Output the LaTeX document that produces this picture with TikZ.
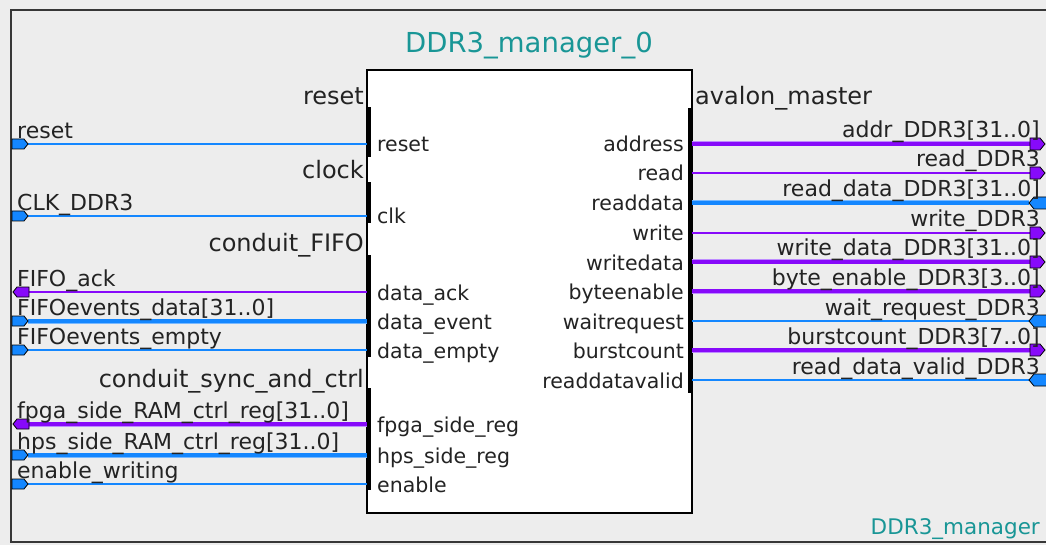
\documentclass[tikz,border=0pt]{standalone}
\usepackage{fontspec}
\setmainfont{DejaVu Sans}
\usepackage{xcolor}
\usepackage{tikz}
\usetikzlibrary{calc, positioning}

\definecolor{bgGray}{RGB}{237,237,237}
\definecolor{frameGray}{RGB}{55,55,55}
\definecolor{txtGray}{RGB}{35,35,35}
\definecolor{sigBlue}{RGB}{20,135,255}
\definecolor{sigBlueLt}{RGB}{120,185,255}
\definecolor{sigPurple}{RGB}{135,10,250}
\definecolor{sigPurpleLt}{RGB}{190,140,255}
\definecolor{instTeal}{RGB}{25,150,150}

\begin{document}
\begin{tikzpicture}[x=1pt, y=-1pt,
    wireB/.style={sigBlue, line width=1.6pt},
    busB/.style={sigBlue, line width=3.6pt, preaction={draw=sigBlueLt, line width=5pt}},
    wireP/.style={sigPurple, line width=1.6pt},
    busP/.style={sigPurple, line width=3.6pt, preaction={draw=sigPurpleLt, line width=5pt}},
    portB/.style={fill=sigBlue, draw=black, line width=0.8pt},
    portP/.style={fill=sigPurple, draw=black, line width=0.8pt},
    ifbar/.style={fill=black},
    iflabel/.style={inner sep=0pt, text=txtGray, font=\fontsize{24}{28}\selectfont},
    siglabel/.style={inner sep=0pt, text=txtGray, font=\fontsize{22}{26}\selectfont},
    pinlabel/.style={inner sep=0pt, text=txtGray, font=\fontsize{20.5}{24}\selectfont}]

    % =================================================================
    % 1. NEN VA KHUNG NGOAI
    % =================================================================
    \useasboundingbox (0,0) rectangle (1046,545);
    \fill[bgGray] (0,0) rectangle (1046,545);
    \draw[frameGray, line width=2pt] (1046,10) -- (11,10) -- (11,542) -- (1046,542);

    % =================================================================
    % 2. KHOI DDR3_manager_0
    % =================================================================
    \coordinate (BlkNW) at (367,70);
    \coordinate (BlkSE) at (692,513);
    \draw[fill=white, draw=black, line width=1.2pt] (BlkNW) rectangle (BlkSE);

    \node[text=instTeal, font=\fontsize{27.5}{32}\selectfont, inner sep=0pt] (title) at (529,46) {DDR3\_manager\_0};
    \node[text=instTeal, font=\fontsize{21.5}{25}\selectfont, inner sep=0pt, anchor=base east] (module) at (1040,534) {DDR3\_manager};

    % Thanh giao dien (interface) mau den
    \fill[ifbar] (367,107) rectangle (371,157);
    \fill[ifbar] (367,182) rectangle (371,223);
    \fill[ifbar] (367,255) rectangle (371,357);
    \fill[ifbar] (367,388) rectangle (371,490);
    \fill[ifbar] (688,108) rectangle (692,393);

    % Ten giao dien
    \node[iflabel, anchor=base east] (ifReset) at (364,105) {reset};
    \node[iflabel, anchor=base east] (ifClock) at (364,179) {clock};
    \node[iflabel, anchor=base east] (ifFifo) at (364,252) {conduit\_FIFO};
    \node[iflabel, anchor=base east] (ifSync) at (364,387) {conduit\_sync\_and\_ctrl};
    \node[iflabel, anchor=base west] (ifAvalon) at (695,105) {avalon\_master};

    % =================================================================
    % 3. DIEM NOI DAY BEN TRAI
    % =================================================================
    \coordinate (L1) at (28,144);   \coordinate (P1) at (367,144);
    \coordinate (L2) at (28,216);   \coordinate (P2) at (367,216);
    \coordinate (L3) at (29,292);   \coordinate (P3) at (367,292);
    \coordinate (L4) at (28,321);   \coordinate (P4) at (367,321);
    \coordinate (L5) at (28,350);   \coordinate (P5) at (367,350);
    \coordinate (L6) at (29,424);   \coordinate (P6) at (367,424);
    \coordinate (L7) at (28,455);   \coordinate (P7) at (367,455);
    \coordinate (L8) at (28,484);   \coordinate (P8) at (367,484);

    \draw[wireB] (L1) -- (P1);
    \draw[wireB] (L2) -- (P2);
    \draw[wireP] (L3) -- (P3);
    \draw[busB]  (L4) -- (P4);
    \draw[wireB] (L5) -- (P5);
    \draw[busP]  (L6) -- (P6);
    \draw[busB]  (L7) -- (P7);
    \draw[wireB] (L8) -- (P8);

    % Cong vao (xanh) va cong ra (tim) ben trai
    \draw[portB] (L1) -- ++(-4,-5) -- ++(-12,0) -- ++(0,10) -- ++(12,0) -- cycle;
    \draw[portB] (L2) -- ++(-4,-5) -- ++(-12,0) -- ++(0,10) -- ++(12,0) -- cycle;
    \draw[portP] (L3) -- ++(0,-5) -- ++(-12,0) -- ++(-4,5) -- ++(4,5) -- ++(12,0) -- cycle;
    \draw[portB] (L4) -- ++(-4,-5) -- ++(-12,0) -- ++(0,10) -- ++(12,0) -- cycle;
    \draw[portB] (L5) -- ++(-4,-5) -- ++(-12,0) -- ++(0,10) -- ++(12,0) -- cycle;
    \draw[portP] (L6) -- ++(0,-5) -- ++(-12,0) -- ++(-4,5) -- ++(4,5) -- ++(12,0) -- cycle;
    \draw[portB] (L7) -- ++(-4,-5) -- ++(-12,0) -- ++(0,10) -- ++(12,0) -- cycle;
    \draw[portB] (L8) -- ++(-4,-5) -- ++(-12,0) -- ++(0,10) -- ++(12,0) -- cycle;

    % Ten tin hieu ben trai
    \node[siglabel, anchor=base west] (sReset) at (17,139) {reset};
    \node[siglabel, anchor=base west] (sClk) at (17,211) {CLK\_DDR3};
    \node[siglabel, anchor=base west] (sAck) at (17,286) {FIFO\_ack};
    \node[siglabel, anchor=base west] (sData) at (17,315) {FIFOevents\_data[31..0]};
    \node[siglabel, anchor=base west] (sEmpty) at (17,344) {FIFOevents\_empty};
    \node[siglabel, anchor=base west] (sFpga) at (17,418) {fpga\_side\_RAM\_ctrl\_reg[31..0]};
    \node[siglabel, anchor=base west] (sHps) at (17,449) {hps\_side\_RAM\_ctrl\_reg[31..0]};
    \node[siglabel, anchor=base west] (sEnable) at (17,478) {enable\_writing};

    % Ten chan ben trong khoi (trai)
    \node[pinlabel, anchor=base west] (pReset) at (377,152) {reset};
    \node[pinlabel, anchor=base west] (pClk) at (377,224) {clk};
    \node[pinlabel, anchor=base west] (pAck) at (377,300) {data\_ack};
    \node[pinlabel, anchor=base west] (pEvent) at (377,329) {data\_event};
    \node[pinlabel, anchor=base west] (pEmpty) at (377,358) {data\_empty};
    \node[pinlabel, anchor=base west] (pFpga) at (377,432) {fpga\_side\_reg};
    \node[pinlabel, anchor=base west] (pHps) at (377,463) {hps\_side\_reg};
    \node[pinlabel, anchor=base west] (pEnable) at (377,492) {enable};

    % =================================================================
    % 4. DIEM NOI DAY BEN PHAI (AVALON MASTER)
    % =================================================================
    \coordinate (Q1) at (692,144);  \coordinate (R1) at (1030,144);
    \coordinate (Q2) at (692,173);  \coordinate (R2) at (1030,173);
    \coordinate (Q3) at (692,203);  \coordinate (R3) at (1029,203);
    \coordinate (Q4) at (692,233);  \coordinate (R4) at (1030,233);
    \coordinate (Q5) at (692,262);  \coordinate (R5) at (1030,262);
    \coordinate (Q6) at (692,291);  \coordinate (R6) at (1030,291);
    \coordinate (Q7) at (692,321);  \coordinate (R7) at (1029,321);
    \coordinate (Q8) at (692,350);  \coordinate (R8) at (1030,350);
    \coordinate (Q9) at (692,380);  \coordinate (R9) at (1029,380);

    \draw[busP]  (Q1) -- (R1);
    \draw[wireP] (Q2) -- (R2);
    \draw[busB]  (Q3) -- (R3);
    \draw[wireP] (Q4) -- (R4);
    \draw[busP]  (Q5) -- (R5);
    \draw[busP]  (Q6) -- (R6);
    \draw[wireB] (Q7) -- (R7);
    \draw[busP]  (Q8) -- (R8);
    \draw[wireB] (Q9) -- (R9);

    % Cong ra (tim) va cong vao (xanh) ben phai
    \draw[portP] (R1) -- ++(0,-6) -- ++(10,0) -- ++(5,6) -- ++(-5,6) -- ++(-10,0) -- cycle;
    \draw[portP] (R2) -- ++(0,-6) -- ++(10,0) -- ++(5,6) -- ++(-5,6) -- ++(-10,0) -- cycle;
    \draw[portB] (R3) -- ++(5,-6) -- ++(13,0) -- ++(0,12) -- ++(-13,0) -- cycle;
    \draw[portP] (R4) -- ++(0,-6) -- ++(10,0) -- ++(5,6) -- ++(-5,6) -- ++(-10,0) -- cycle;
    \draw[portP] (R5) -- ++(0,-6) -- ++(10,0) -- ++(5,6) -- ++(-5,6) -- ++(-10,0) -- cycle;
    \draw[portP] (R6) -- ++(0,-6) -- ++(10,0) -- ++(5,6) -- ++(-5,6) -- ++(-10,0) -- cycle;
    \draw[portB] (R7) -- ++(5,-6) -- ++(13,0) -- ++(0,12) -- ++(-13,0) -- cycle;
    \draw[portP] (R8) -- ++(0,-6) -- ++(10,0) -- ++(5,6) -- ++(-5,6) -- ++(-10,0) -- cycle;
    \draw[portB] (R9) -- ++(5,-6) -- ++(13,0) -- ++(0,12) -- ++(-13,0) -- cycle;

    % Ten tin hieu ben phai
    \node[siglabel, anchor=base east] (tAddr) at (1040,138) {addr\_DDR3[31..0]};
    \node[siglabel, anchor=base east] (tRead) at (1040,167) {read\_DDR3};
    \node[siglabel, anchor=base east] (tRdata) at (1040,197) {read\_data\_DDR3[31..0]};
    \node[siglabel, anchor=base east] (tWrite) at (1040,227) {write\_DDR3};
    \node[siglabel, anchor=base east] (tWdata) at (1040,256) {write\_data\_DDR3[31..0]};
    \node[siglabel, anchor=base east] (tByte) at (1040,285) {byte\_enable\_DDR3[3..0]};
    \node[siglabel, anchor=base east] (tWait) at (1040,315) {wait\_request\_DDR3};
    \node[siglabel, anchor=base east] (tBurst) at (1040,344) {burstcount\_DDR3[7..0]};
    \node[siglabel, anchor=base east] (tValid) at (1040,374) {read\_data\_valid\_DDR3};

    % Ten chan ben trong khoi (phai)
    \node[pinlabel, anchor=base east] (qAddr) at (684,152) {address};
    \node[pinlabel, anchor=base east] (qRead) at (684,181) {read};
    \node[pinlabel, anchor=base east] (qRdata) at (684,211) {readdata};
    \node[pinlabel, anchor=base east] (qWrite) at (684,241) {write};
    \node[pinlabel, anchor=base east] (qWdata) at (684,270) {writedata};
    \node[pinlabel, anchor=base east] (qByte) at (684,299) {byteenable};
    \node[pinlabel, anchor=base east] (qWait) at (684,329) {waitrequest};
    \node[pinlabel, anchor=base east] (qBurst) at (684,358) {burstcount};
    \node[pinlabel, anchor=base east] (qValid) at (684,388) {readdatavalid};

\end{tikzpicture}
\end{document}
